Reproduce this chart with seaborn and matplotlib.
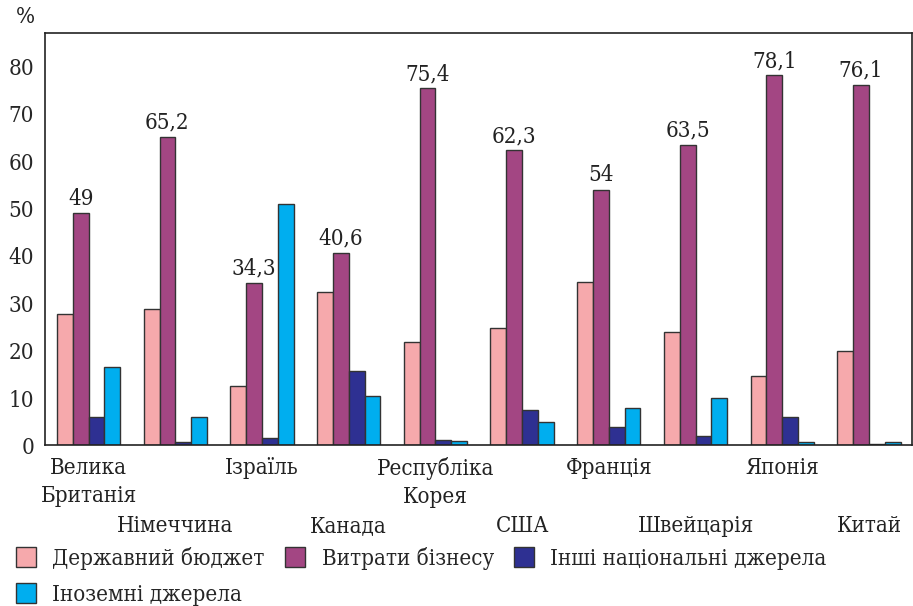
import matplotlib
matplotlib.use("Agg")
import matplotlib.pyplot as plt
import seaborn as sns
import pandas as pd
import numpy as np
from matplotlib.patches import Patch

countries = ["Велика\nБританія", "Німеччина", "Ізраїль", "Канада", "Республіка\nКорея",
             "США", "Франція", "Швейцарія", "Японія", "Китай"]
series_names = ["Державний бюджет", "Витрати бізнесу", "Інші національні джерела", "Іноземні джерела"]
state_budget = [27.8, 28.8, 12.6, 32.4, 21.8, 24.8, 34.4, 23.9, 14.6, 19.9]
business = [49, 65.2, 34.3, 40.6, 75.4, 62.3, 54, 63.5, 78.1, 76.1]
other_national = [6.0, 0.7, 1.6, 15.8, 1.1, 7.5, 3.9, 1.9, 6.0, 0.4]
foreign = [16.6, 6.0, 51.0, 10.4, 1.0, 5.0, 7.8, 10.0, 0.8, 0.7]
business_labels = ["49", "65,2", "34,3", "40,6", "75,4", "62,3", "54", "63,5", "78,1", "76,1"]
colors = ["#F6A9AC", "#A34683", "#2E3092", "#00AEEF"]

sns.set_theme(style="white")
plt.rcParams["font.family"] = ["DejaVu Serif"]
plt.rcParams["font.stretch"] = "condensed"

rows = []
for vals, name in zip([state_budget, business, other_national, foreign], series_names):
    for c, v in zip(countries, vals):
        rows.append({"country": c, "source": name, "value": v})
df = pd.DataFrame(rows)

fs = 16
fig = plt.figure(figsize=(9.13, 6.06), dpi=100)
ax = fig.add_axes([0.0496, 0.265, 0.9496, 0.68])
sns.barplot(data=df, x="country", y="value", hue="source", order=countries,
            hue_order=series_names, palette=colors, width=0.73, dodge=True,
            edgecolor="#333333", linewidth=1.0, saturation=1, ax=ax, legend=False)

ax.set_xlim(-0.5, 9.5)
ax.set_ylim(0, 87)
ax.set_yticks([0, 10, 20, 30, 40, 50, 60, 70, 80])
ax.set_yticklabels([str(t) for t in [0, 10, 20, 30, 40, 50, 60, 70, 80]], fontsize=fs)
ax.tick_params(axis="y", direction="in", length=8, width=1, color="#222222", pad=8)

ax.set_xticks(range(len(countries)))
ax.set_xticklabels([])
ax.tick_params(axis="x", length=0)
ax.set_xticks(np.arange(0.5, 9.5, 1), minor=True)
ax.tick_params(axis="x", which="minor", direction="in", length=8, width=1, color="#222222")
ax.set_xlabel("")
ax.set_ylabel("")
for s in ax.spines.values():
    s.set_color("#222222")
    s.set_linewidth(1.2)

trans = ax.get_xaxis_transform()
for i, c in enumerate(countries):
    y = -0.028 if i % 2 == 0 else -0.168
    ax.text(i, y, c, transform=trans, ha="center", va="top", fontsize=fs,
            linespacing=1.35, color="#222222")

purple_container = ax.containers[1]
for bar, lab in zip(purple_container, business_labels):
    ax.text(bar.get_x() + bar.get_width() / 2, bar.get_height() + 0.7, lab,
            ha="center", va="bottom", fontsize=fs, color="#222222")

fig.text(0.028, 0.972, "%", fontsize=fs, ha="center", va="center", color="#222222")

handles = [Patch(facecolor=c, edgecolor="#333333", linewidth=1.0) for c in colors]
order = [0, 3, 1, 2]
leg = fig.legend([handles[i] for i in order], [series_names[i] for i in order],
                 ncol=3, loc="lower left", bbox_to_anchor=(-0.007, -0.036), frameon=False,
                 fontsize=fs, handlelength=0.9, handleheight=1.0, handletextpad=0.75,
                 columnspacing=0.9, labelspacing=0.6, borderpad=0.5)

fig.savefig("out.png", dpi=100)
